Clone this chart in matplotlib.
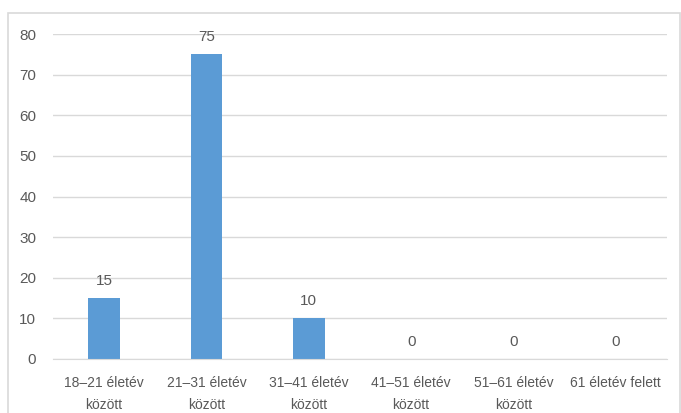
import matplotlib.pyplot as plt
from matplotlib.patches import Rectangle

categories = ["18–21 életév\nközött", "21–31 életév\nközött", "31–41 életév\nközött",
              "41–51 életév\nközött", "51–61 életév\nközött", "61 életév felett"]
values = [15, 75, 10, 0, 0, 0]
yticks = [0, 10, 20, 30, 40, 50, 60, 70, 80]

plt.rcParams['font.family'] = ['Liberation Sans', 'DejaVu Sans']
TXT = "#595959"

fig = plt.figure(figsize=(6.81, 4.13), dpi=100)
ax = fig.add_axes([53 / 681, 1 - 359 / 413, (667 - 53) / 681, (359 - 34) / 413])

# outer chart border
fig.patches.append(Rectangle((8 / 681, -0.05), 672 / 681, 1.05 - 13 / 413,
                             transform=fig.transFigure, fill=False,
                             edgecolor="#d9d9d9", linewidth=1.2))

x = range(len(categories))
ax.bar(x, values, width=0.31, color="#5B9BD5", zorder=3)
for i, v in zip(x, values):
    ax.text(i, v + 2.5, str(v), ha="center", va="bottom", fontsize=11, color=TXT)

ax.set_xlim(-0.5, len(categories) - 0.5)
ax.set_ylim(0, 80)
ax.set_yticks(yticks)
ax.set_xticks(list(x))
ax.set_xticklabels(categories, fontsize=10, color=TXT, linespacing=1.75)
ax.tick_params(axis="y", labelsize=11, labelcolor=TXT, length=0, pad=12)
ax.tick_params(axis="x", length=0, pad=12)
ax.grid(axis="y", color="#d9d9d9", linewidth=1, zorder=0)
for s in ["top", "right", "left"]:
    ax.spines[s].set_visible(False)
ax.spines["bottom"].set_color("#d9d9d9")
ax.spines["bottom"].set_zorder(4)

fig.savefig("out.png", dpi=100)
